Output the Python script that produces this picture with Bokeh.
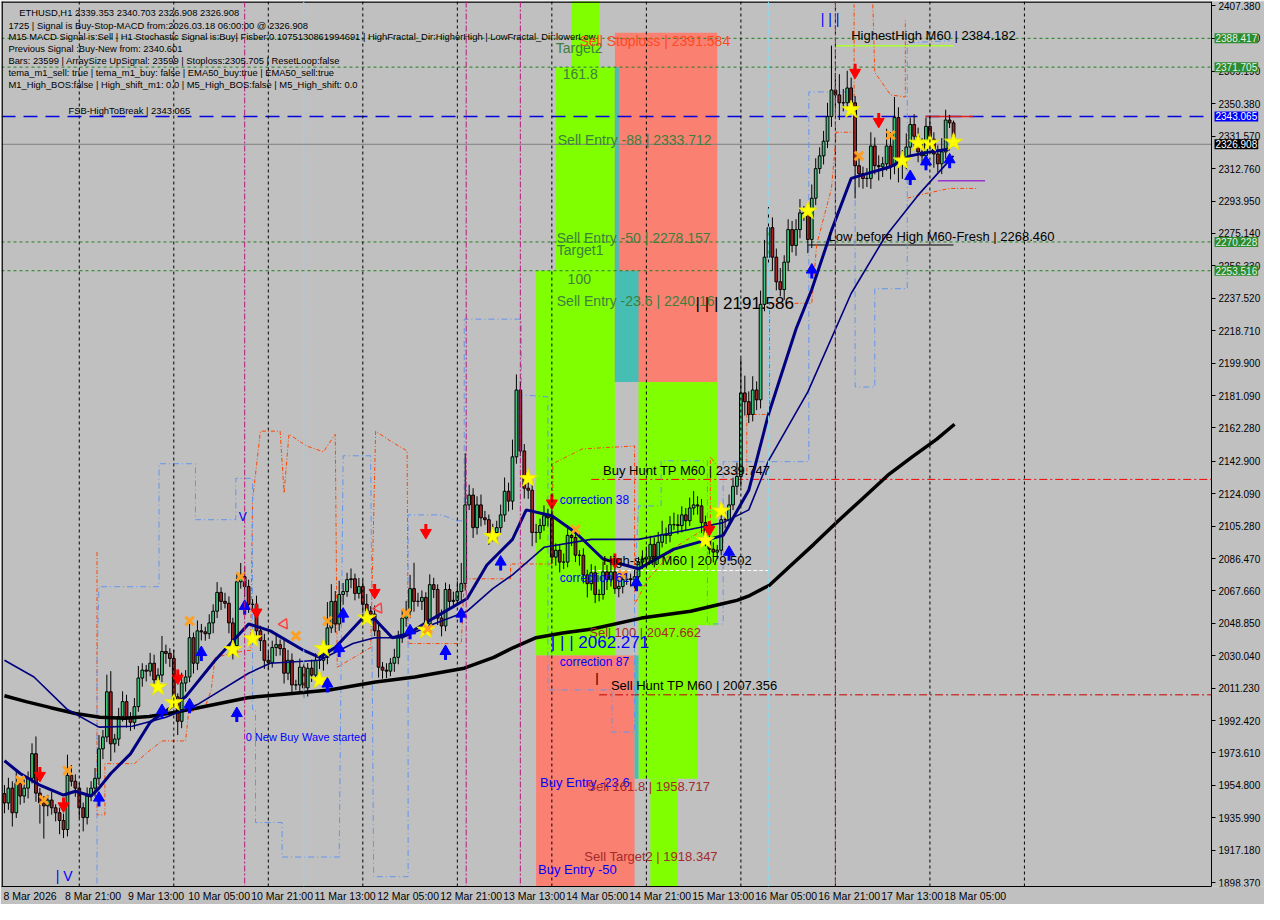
from bokeh.plotting import figure
from bokeh.models import Range1d, FixedTicker, Label, Span, NumeralTickFormatter
from bokeh.embed import file_html
from bokeh.resources import INLINE

# ---------------- data ----------------
x_tick_bars = [0, 16, 32, 48, 64, 80, 96, 112, 128, 144, 160, 176, 192, 208, 224, 240]
x_tick_labels = ["8 Mar 2026", "8 Mar 21:00", "9 Mar 13:00", "10 Mar 05:00", "10 Mar 21:00",
                 "11 Mar 13:00", "12 Mar 05:00", "12 Mar 21:00", "13 Mar 13:00", "14 Mar 05:00",
                 "14 Mar 21:00", "15 Mar 13:00", "16 Mar 05:00", "16 Mar 21:00", "17 Mar 13:00",
                 "18 Mar 05:00"]
y_ticks = [2407.38, 2388.57, 2369.19, 2350.38, 2331.57, 2312.76, 2293.95, 2275.14, 2256.33,
           2237.52, 2218.71, 2199.90, 2181.09, 2162.28, 2142.90, 2124.09, 2105.28, 2086.47,
           2067.66, 2048.85, 2030.04, 2011.23, 1992.42, 1973.61, 1954.80, 1935.99, 1917.18, 1898.37]

first_open = 1950.0
closes = [
    1944.6, 1953.2, 1938.9, 1956.0, 1948.6, 1953.2, 1958.9, 1973.2, 1950.3, 1944.6,
    1942.9, 1946.3, 1941.8, 1938.9, 1934.4, 1929.2, 1960.6, 1957.2, 1953.2, 1941.8,
    1936.1, 1948.6, 1953.2, 1958.9, 1976.0, 1982.9, 2009.1, 1978.9, 1981.7, 1994.8,
    2003.4, 1994.3, 1991.4, 2000.5, 2017.1, 2021.7, 2021.1, 2025.7, 2016.0, 2018.8,
    2032.5, 2031.4, 2028.5, 2006.2, 1992.0, 2014.2, 2017.7, 2040.5, 2025.7, 2044.5,
    2043.9, 2042.8, 2049.1, 2055.9, 2066.8, 2061.6, 2060.5, 2049.1, 2035.9, 2073.0,
    2075.9, 2070.2, 2059.9, 2059.9, 2044.5, 2038.8, 2027.4, 2026.2, 2034.8, 2036.5,
    2034.2, 2019.9, 2027.4, 2013.1, 2013.1, 2023.4, 2011.4, 2022.8, 2018.8, 2027.4,
    2027.4, 2029.1, 2046.2, 2061.6, 2048.5, 2065.6, 2067.3, 2074.2, 2074.7, 2066.2,
    2070.2, 2059.9, 2055.9, 2054.2, 2044.5, 2023.4, 2021.7, 2021.1, 2025.7, 2029.1,
    2040.5, 2051.9, 2055.9, 2069.0, 2061.6, 2061.6, 2063.9, 2048.5, 2071.3, 2068.5,
    2051.9, 2047.3, 2068.5, 2061.6, 2062.2, 2067.3, 2071.9, 2117.6, 2123.3, 2104.4,
    2117.6, 2110.1, 2109.0, 2100.4, 2101.6, 2104.4, 2111.8, 2125.5, 2119.8, 2145.5,
    2184.3, 2148.9, 2127.3, 2126.1, 2101.6, 2101.6, 2105.6, 2111.3, 2110.1, 2087.3,
    2091.3, 2084.4, 2084.4, 2099.9, 2098.7, 2088.4, 2088.4, 2077.0, 2071.9, 2078.2,
    2065.6, 2065.6, 2078.7, 2074.2, 2078.7, 2069.0, 2070.2, 2074.2, 2074.7, 2074.2,
    2075.9, 2084.4, 2086.2, 2087.3, 2094.7, 2087.3, 2095.9, 2100.4, 2099.9, 2106.1,
    2106.1, 2105.6, 2111.8, 2108.4, 2115.8, 2117.6, 2117.0, 2107.3, 2097.6, 2091.9,
    2090.2, 2091.3, 2109.0, 2109.0, 2117.6, 2128.4, 2134.1, 2182.6, 2177.5, 2170.1,
    2184.3, 2178.6, 2234.0, 2261.4, 2278.5, 2261.4, 2247.1, 2242.6, 2258.5, 2277.4,
    2268.2, 2277.4, 2287.1, 2286.5, 2271.7, 2295.6, 2312.8, 2320.2, 2328.7, 2343.0,
    2358.4, 2355.6, 2351.0, 2351.0, 2359.6, 2351.0, 2314.5, 2309.9, 2307.1, 2307.1,
    2325.9, 2314.5, 2313.9, 2315.6, 2325.9, 2314.5, 2342.4, 2316.8, 2318.5, 2325.3,
    2338.4, 2331.6, 2322.5, 2320.2, 2337.3, 2329.9, 2321.3, 2315.6, 2322.5, 2341.0,
    2339.353, 2326.908]
up_wick = [
    5, 6, 4, 8, 3, 5, 4, 6, 10, 3, 4, 3, 5, 2, 3, 4, 12, 6, 4, 3,
    3, 5, 4, 6, 8, 4, 10, 12, 3, 5, 6, 4, 3, 5, 7, 4, 3, 6, 5, 4,
    9, 4, 3, 5, 2, 6, 4, 8, 3, 6, 4, 3, 5, 4, 6, 3, 5, 4, 3, 5,
    8, 6, 4, 3, 5, 3, 4, 5, 4, 6, 3, 5, 6, 4, 3, 5, 4, 3, 5, 4,
    3, 4, 15, 10, 6, 8, 5, 4, 6, 3, 5, 4, 6, 3, 5, 4, 3, 4, 3, 5,
    4, 5, 6, 8, 15, 5, 4, 3, 6, 4, 3, 5, 4, 3, 5, 6, 12, 30, 6, 4,
    5, 6, 4, 3, 5, 4, 6, 8, 5, 10, 9, 5, 4, 6, 3, 5, 4, 6, 4, 5,
    4, 3, 5, 6, 4, 5, 3, 4, 3, 5, 4, 3, 6, 4, 5, 3, 4, 3, 4, 3,
    4, 3, 5, 6, 5, 4, 6, 8, 4, 5, 7, 6, 5, 4, 6, 8, 5, 4, 4, 3,
    4, 3, 5, 4, 6, 5, 8, 20, 10, 6, 8, 5, 8, 10, 12, 6, 5, 8, 4, 6,
    5, 6, 8, 4, 5, 8, 6, 5, 6, 8, 25.8, 10, 12, 8, 10, 6, 4, 5, 4, 6,
    8, 5, 6, 4, 10, 8, 12, 6, 5, 8, 4, 6, 5, 8, 5, 6, 4, 5, 8, 6,
    3, 1.35]
down_wick = [
    6, 4, 8, 3, 5, 4, 6, 3, 5, 12, 19, 6, 4, 5, 8, 5, 4, 3, 5, 6,
    8, 4, 3, 5, 4, 6, 3, 10, 5, 4, 3, 6, 5, 4, 3, 5, 6, 3, 4, 5,
    4, 6, 5, 3, 8, 4, 5, 3, 6, 4, 5, 4, 3, 6, 4, 5, 3, 6, 8, 5,
    4, 6, 5, 4, 3, 6, 5, 4, 3, 5, 4, 6, 4, 5, 3, 4, 6, 5, 4, 3,
    5, 6, 4, 3, 5, 4, 6, 3, 5, 4, 3, 5, 4, 6, 3, 6, 5, 4, 3, 5,
    4, 3, 5, 4, 6, 3, 5, 4, 3, 5, 4, 6, 3, 5, 4, 3, 5, 4, 3, 6,
    4, 5, 3, 6, 4, 5, 3, 4, 6, 5, 4, 3, 6, 5, 8, 6, 4, 3, 5, 4,
    5, 6, 4, 3, 5, 4, 6, 5, 8, 4, 5, 4, 3, 6, 4, 3, 5, 4, 3, 4,
    5, 3, 4, 5, 3, 6, 4, 3, 5, 4, 3, 5, 4, 6, 3, 4, 5, 6, 4, 3,
    6, 4, 3, 5, 4, 3, 5, 6, 8, 5, 4, 6, 5, 4, 6, 8, 5, 4, 6, 5,
    4, 6, 5, 4, 8, 5, 4, 3, 5, 4, 6, 8, 10, 5, 4, 6, 19, 8, 6, 5,
    6, 5, 8, 6, 4, 8, 5, 12, 10, 6, 5, 8, 6, 5, 4, 6, 8, 5, 6, 4,
    3, 0]

# moving averages (bar index, price)
ma_slow_bar = [0, 5.5, 11.75, 18, 24.25, 30.5, 36.75, 43, 49.25, 55.5, 61.75, 71.75, 82.5, 94.25,
               104.25, 116.75, 124.25, 129.25, 135, 141.75, 149.25, 161.75, 174.25, 181.75, 186,
               189.25, 194.25, 199.25, 205.5, 211.75, 218, 224.25, 230.5, 236.75, 241.25]
ma_slow_val = [2006.8, 2003.4, 1999.9, 1996.5, 1994.3, 1993.7, 1994.8, 1997.1, 1999.9, 2002.8,
               2005.7, 2007.9, 2010.2, 2014.8, 2017.7, 2022.8, 2029.1, 2034.8, 2040.5, 2043.3,
               2045.6, 2051.9, 2055.9, 2059.9, 2062.2, 2065.0, 2071.0, 2081.6, 2094.7, 2108.4,
               2121.5, 2134.7, 2145.5, 2155.8, 2164.4]
ema_fast_bar = [0, 4, 9, 15, 18, 22, 24, 27, 32, 37, 46, 53.5, 62, 67.5, 76, 80, 84, 91, 94, 98.5,
                102.5, 109, 117.5, 122.5, 129, 132.5, 139, 145, 152, 161, 170, 182.5, 189, 194,
                201, 205, 210, 215, 219, 225, 230, 235, 240]
ema_fast_val = [1969.1, 1961.7, 1954.9, 1949.2, 1951.4, 1948.6, 1953.2, 1961.7, 1973.1, 1991.4,
                2006.2, 2027.4, 2048.5, 2044.5, 2033.1, 2029.1, 2034.8, 2051.9, 2051.3, 2040.5,
                2042.8, 2051.9, 2063.3, 2082.7, 2097.6, 2114.7, 2111.3, 2101.6, 2086.2, 2080.5,
                2091.9, 2099.9, 2126.1, 2170.1, 2219.7, 2242.6, 2276.8, 2307.1, 2309.9, 2313.9,
                2320.2, 2322.5, 2324.2]
ema_mid_bar = [0, 7.5, 16, 24, 32.5, 41, 49, 62, 67.5, 80, 88.5, 94, 101, 109, 117.5, 124, 129,
               137, 149, 161, 174, 182.5, 189, 194, 204, 215, 223.5, 232, 241]
ema_mid_val = [2027.4, 2017.7, 1998.8, 1988.6, 1989.1, 1994.3, 2001.7, 2019.9, 2025.7, 2027.4,
               2037.1, 2040.5, 2040.5, 2048.5, 2055.9, 2069.0, 2077.0, 2093.0, 2097.6, 2097.6,
               2103.3, 2107.3, 2114.7, 2143.2, 2183.2, 2240.3, 2272.8, 2297.4, 2320.2]

# channel step lines
orange_bar = [23.5, 23.5, 25.5, 25.5, 33, 36.75, 40, 46, 46.75, 51, 52.5, 53.5, 61.25, 62.5, 63, 65,
              70, 71, 72.25, 76.75, 81, 84, 84.5, 93, 94.25, 98, 102.25, 102.5, 116, 116.75, 128.5,
              128.5, 139.25, 139.25, 146.75, 160, 160, 163.5, 171, 179.25, 179.25, 182.5, 188.5,
              188.5, 194.25, 194.25, 205, 206.25, 210, 211.25, 215.75, 215.75]
orange_val = [2090.2, 1937.7, 1937.7, 1967.4, 1967.4, 1974.8, 1980.6, 1980.6, 1997.1, 2000.5,
              2010.2, 2029.1, 2033.1, 2033.1, 2120.4, 2160.4, 2160.4, 2124.4, 2158.6, 2151.8,
              2148.4, 2158.6, 2023.4, 2034.8, 2160.4, 2154.7, 2148.9, 2037.1, 2037.1, 2074.7,
              2074.7, 2083.3, 2083.3, 2141.5, 2150.1, 2151.8, 2059.9, 2074.7, 2094.1, 2105.6,
              2145.5, 2135.8, 2135.8, 2170.1, 2170.1, 2234.6, 2234.6, 2268.8, 2301.3, 2333.9,
              2333.9, 2408.1]
orange2_bar = [220.5, 221, 225, 228.75, 228.75]
orange2_val = [2408.1, 2368.7, 2355.6, 2354.4, 2400.1]
orange3_bar = [229.25, 234.25, 240, 246.75]
orange3_val = [2295.6, 2298.5, 2301.3, 2301.3]
blue_bar = [23.5, 23.5, 24, 39.25, 39.25, 48.5, 48.5, 58.75, 58.75, 63, 63, 63.75, 63.75, 70.5,
            70.5, 85, 86, 93, 93.75, 102.5, 102.5, 111, 115, 116.75, 116.75, 131.25, 131.25, 138,
            138, 154.25, 154.25, 160, 160, 161, 166.75, 166.75, 178.5, 178.5, 182.5, 182.5,
            204.25, 204.25, 215, 216, 216, 221, 221, 229.25, 229.25, 240, 240]
blue_val = [1897.8, 2025.7, 2070.1, 2070.1, 2141.5, 2141.5, 2109.0, 2109.0, 2133.0, 2133.0,
            1998.8, 1998.8, 1933.2, 1933.2, 1913.2, 1913.2, 2146.1, 2146.1, 1901.8, 1901.8,
            2111.8, 2111.8, 2108.4, 2108.4, 2225.4, 2225.4, 2181.5, 2180.3, 2010.2, 2010.2,
            1985.7, 1985.7, 2071.3, 2117.0, 2117.0, 2143.2, 2143.2, 2048.5, 2048.5, 2142.7,
            2142.7, 2357.3, 2357.3, 2354.4, 2186.0, 2186.0, 2243.1, 2243.1, 2385.8, 2387.0, 2391.0]

# signal markers (bar, price)
star_bar = [39, 43, 58, 63, 80, 81, 92, 107, 124, 133, 178, 182, 204, 215, 228, 232, 235, 241]
star_val = [2011.9, 2002.8, 2033.6, 2039.9, 2015.9, 2034.2, 2051.9, 2045.0, 2099.3, 2133.0,
            2097.0, 2114.1, 2288.2, 2347.0, 2317.3, 2327.6, 2327.6, 2328.2]
cross_bar = [4, 10, 16, 47, 60, 74, 82, 102, 107.5, 145, 157, 217, 225]
cross_val = [1957.7, 1946.3, 1963.4, 2050.2, 2075.9, 2041.6, 2050.2, 2054.8, 2045.6, 2103.3,
             2077.0, 2320.2, 2332.2]
sell_arrow_bar = [9, 15, 44, 64, 94, 107, 139, 155, 179, 216, 222]
sell_arrow_val = [1961.7, 1944.0, 2018.2, 2056.5, 2067.9, 2102.7, 2119.8, 2085.6, 2104.4, 2369.8, 2341.3]
hollow_arrow_bar = [71, 95]
hollow_arrow_val = [2048.5, 2057.6]
buy_arrow_bar = [24, 40, 47, 50, 59, 61, 82, 85, 86, 103, 112, 116, 126, 160.5, 184, 205, 230, 234, 240]
buy_arrow_val = [1946.3, 1997.1, 2000.5, 2030.8, 1995.4, 2057.6, 2012.5, 2033.1, 2053.1, 2043.4,
                 2031.4, 2053.1, 2083.3, 2071.3, 2089.0, 2252.8, 2307.1, 2315.6, 2316.8]

# zones: left bar, right bar, bottom price, top price, colour
zone_left = [144, 140, 135, 155, 155, 155, 161, 161, 135, 160, 164]
zone_right = [151, 155, 155, 181, 156, 161, 181, 176, 160, 161, 171]
zone_bottom = [2371.7, 2253.5, 2030.2, 2188.9, 2253.5, 2188.9, 2047.7, 1958.7, 1890.0, 1958.7, 1890.0]
zone_top = [2412.0, 2371.7, 2253.5, 2391.6, 2371.7, 2253.5, 2188.9, 2047.7, 2030.2, 2030.2, 1958.7]
zone_color = ["#7FFF00", "#7FFF00", "#7FFF00", "#FA8072", "#46BEB4", "#46BEB4", "#7FFF00",
              "#7FFF00", "#FA8072", "#46BEB4", "#7FFF00"]

# levels
green_levels = [2388.417, 2371.705, 2270.228, 2253.516]
fsb_high = 2343.065
bid = 2326.908
buy_hunt_line = 2132.4
sell_hunt_line = 2007.356
high_shift = 2079.502
low_before_high = 2268.460
highest_high = 2384.182
stoploss_level = 2305.705
day_start_bars = [19, 43, 67, 91, 115, 139, 163, 187, 211, 235, 259]
magenta_bars = [61, 117.25, 131, 211]
cyan_bars = [76, 194]

# ---------------- figure ----------------
XMIN, XMAX = -0.75, 306.5          # chart area (price scale sits right of XMAX)
YMIN, YMAX = 1896.1, 2409.8
CHART_W = 1210                      # px of chart area
FIG_W, FIG_H = 1264, 904
FRAME_W = FIG_W - 1
XEND = XMIN + (XMAX - XMIN) * FRAME_W / CHART_W


def bx(px):
    return XMIN + px / 4.0


def py(y):
    return YMAX - y * 0.5708


p = figure(width=FIG_W, height=FIG_H, output_backend="svg", toolbar_location=None,
           x_range=Range1d(XMIN, XEND), y_range=Range1d(YMIN, YMAX),
           y_axis_location="right", min_border_left=1, min_border_top=1,
           min_border_right=0, min_border_bottom=2)
p.background_fill_color = "#C0C0C0"
p.border_fill_color = "#C0C0C0"
p.outline_line_color = None
p.grid.visible = False

FONT = "Liberation Sans"
for ax in (p.xaxis[0], p.yaxis[0]):
    ax.axis_line_color = "black"
    ax.major_tick_line_color = "black"
    ax.minor_tick_line_color = None
    ax.major_tick_in = 0
    ax.major_tick_out = 4
    ax.major_label_text_font = FONT
    ax.major_label_text_font_size = "10.5px"
    ax.major_label_text_color = "black"
    ax.major_label_standoff = 3
label_centres = [b + 6.5 for b in x_tick_bars]
p.xaxis.ticker = FixedTicker(ticks=label_centres)
p.xaxis.major_label_overrides = {c: l for c, l in zip(label_centres, x_tick_labels)}
p.xaxis.major_tick_out = 0
p.xaxis.bounds = (XMIN, XMAX)
p.yaxis.ticker = FixedTicker(ticks=y_ticks)
p.yaxis.formatter = NumeralTickFormatter(format="0.000")
p.yaxis.major_label_text_font_size = "10px"
p.yaxis.fixed_location = XMAX

# zones
p.quad(left=zone_left, right=zone_right, bottom=zone_bottom, top=zone_top,
       fill_color=zone_color, line_alpha=0)

# vertical separators
for b in day_start_bars:
    p.add_layout(Span(location=b, dimension="height", line_color="black", line_dash="3 3", line_width=1))
for b in magenta_bars:
    p.add_layout(Span(location=b, dimension="height", line_color="#B8177E", line_dash="6 2 2 2", line_width=1))
for b in cyan_bars:
    p.add_layout(Span(location=b, dimension="height", line_color="#8FD8EC", line_dash="6 3", line_width=1))

# horizontal levels (chart area only)
p.segment(x0=[XMIN] * 4, y0=green_levels, x1=[XMAX] * 4, y1=green_levels, line_color="#1F7F1F",
          line_dash="3 3", line_width=1)
p.segment(x0=[XMIN], y0=[fsb_high], x1=[XMAX], y1=[fsb_high], line_color="#0000E0",
          line_dash="14 8", line_width=1.5)
p.segment(x0=[XMIN], y0=[bid], x1=[XMAX], y1=[bid], line_color="#808080", line_width=1)
p.segment(x0=[149], y0=[buy_hunt_line], x1=[XMAX], y1=[buy_hunt_line], line_color="#FF0000",
          line_dash="8 3 2 3", line_width=1)
p.segment(x0=[151], y0=[sell_hunt_line], x1=[XMAX], y1=[sell_hunt_line], line_color="#C00000",
          line_dash="8 3 2 3", line_width=1)
p.segment(x0=[149], y0=[high_shift], x1=[194], y1=[high_shift], line_color="white",
          line_dash="4 2", line_width=1)
p.segment(x0=[204], y0=[low_before_high], x1=[241], y1=[low_before_high], line_color="black", line_width=1)
p.segment(x0=[211], y0=[highest_high], x1=[241], y1=[highest_high], line_color="#ADFF2F", line_width=1.5)
p.segment(x0=[237], y0=[stoploss_level], x1=[249], y1=[stoploss_level], line_color="#9932CC", line_width=1.5)
p.segment(x0=[234], y0=[fsb_high], x1=[246], y1=[fsb_high], line_color="#DD2020", line_width=1.5)

# chart border (left and top)
p.segment(x0=[XMIN + 0.15, XMIN], y0=[YMIN, YMAX - 0.3], x1=[XMIN + 0.15, XMAX], y1=[YMAX, YMAX - 0.3],
          line_color="black", line_width=1.5)

# channel step lines
p.line(orange_bar, orange_val, line_color="#FF4500", line_dash="4 2 1 2", line_width=1)
p.line(orange2_bar, orange2_val, line_color="#FF4500", line_dash="4 2 1 2", line_width=1)
p.line(orange3_bar, orange3_val, line_color="#FF4500", line_dash="4 2 1 2", line_width=1)
p.line(blue_bar, blue_val, line_color="#6495ED", line_dash="6 3 1 3", line_width=1)

# candles
n = len(closes)
opens = [first_open] + closes[:-1]
xs = list(range(n))
tops = [max(o, c) for o, c in zip(opens, closes)]
bots = [min(o, c) for o, c in zip(opens, closes)]
highs = [t + w for t, w in zip(tops, up_wick)]
lows = [b - w for b, w in zip(bots, down_wick)]
cols = ["#3CC57A" if c >= o else "#A52323" for o, c in zip(opens, closes)]
p.segment(x0=xs, y0=lows, x1=xs, y1=highs, line_color="black", line_width=1)
p.vbar(x=xs, width=0.7, top=tops, bottom=bots, fill_color=cols, line_color="black", line_width=1)

# moving averages
p.line(ma_slow_bar, ma_slow_val, line_color="black", line_width=3.5)
p.line(ema_mid_bar, ema_mid_val, line_color="#000080", line_width=1.6)
p.line(ema_fast_bar, ema_fast_val, line_color="#000080", line_width=3)

# markers
p.scatter(star_bar, star_val, marker="star", size=19, fill_color="#FFFF00", line_color="#E8E800")
p.scatter(cross_bar, cross_val, marker="x", size=12, line_color="#FFA020", line_width=3)
sv_top = [v + 3.8 for v in sell_arrow_val]
p.segment(x0=sell_arrow_bar, y0=sv_top, x1=sell_arrow_bar, y1=sell_arrow_val, line_color="#FF0000", line_width=3)
p.scatter(sell_arrow_bar, [v - 1.2 for v in sell_arrow_val], marker="inverted_triangle", size=11,
          fill_color="#FF0000", line_color="#FF0000")
bv_bot = [v - 3.8 for v in buy_arrow_val]
p.segment(x0=buy_arrow_bar, y0=bv_bot, x1=buy_arrow_bar, y1=buy_arrow_val, line_color="#0000FF", line_width=3)
p.scatter(buy_arrow_bar, [v + 1.2 for v in buy_arrow_val], marker="triangle", size=11,
          fill_color="#0000FF", line_color="#0000FF")
p.scatter(hollow_arrow_bar, hollow_arrow_val, marker="inverted_triangle", size=10, angle=0.6,
          fill_alpha=0, line_color="#FF4040", line_width=1.5)

# ---------------- texts ----------------
info_lines = [
    ("ETHUSD,H1  2339.353 2340.703 2326.908 2326.908", 18, 11),
    ("1725 | Signal is Buy-Stop-MACD from:2026.03.18 06:00:00 @ 2326.908", 7, 24),
    ("M15 MACD Signal is:Sell | H1 Stochastic Signal is:Buy| Fisber:0.1075130861994691 | HighFractal_Dir:HigherHigh | LowFractal_Dir:lowerLow", 7, 36),
    ("Previous Signal :Buy-New from: 2340.601", 7, 48),
    ("Bars: 23599 | ArraySize UpSignal: 23599 | Stoploss:2305.705 | ResetLoop:false", 7, 60),
    ("tema_m1_sell: true | tema_m1_buy: false | EMA50_buy:true | EMA50_sell:true", 7, 72),
    ("M1_High_BOS:false | High_shift_m1: 0.0 | M5_High_BOS:false | M5_High_shift: 0.0", 7, 84),
    ("FSB-HighToBreak | 2343.065", 68, 111),
]
for t, x, y in info_lines:
    p.add_layout(Label(x=bx(x), y=py(y), text=t, text_font=FONT, text_font_size="9.4px",
                       text_color="black", text_baseline="middle", text_align="left"))

GREEN_T = "#3E7E3E"
BROWN_T = "#A52A2A"
BLUE_T = "#0000FF"
labels = [
    ("Target2", 563, 47, GREEN_T, "14px"),
    ("Sell Stoploss | 2391.584", 587, 40, "#FF4A22", "14px"),
    ("161.8", 570, 74, GREEN_T, "14px"),
    ("Sell Entry -88 | 2333.712", 565, 141, GREEN_T, "14px"),
    ("Sell Entry -50 | 2278.157", 564, 240, GREEN_T, "14px"),
    ("Target1", 564, 253, GREEN_T, "14px"),
    ("100", 575, 282, GREEN_T, "14px"),
    ("Sell Entry -23.6 | 2240.16", 564, 305, GREEN_T, "14px"),
    ("| | | 2191.586", 705, 307, "black", "17px"),
    ("HighestHigh   M60 | 2384.182", 863, 35, "black", "13px"),
    ("Low before High   M60-Fresh | 2268.460", 840, 239, "black", "13px"),
    ("Buy Hunt TP M60 | 2339.747", 611, 477, "black", "13px"),
    ("correction 38", 567, 507, BLUE_T, "12px"),
    ("High-shift M60 | 2079.502", 611, 568, "black", "13px"),
    ("correction 61", 567, 586, BLUE_T, "12px"),
    ("Sell 100 | 2047.662", 597, 642, BROWN_T, "13px"),
    ("| | | 2062.271", 558, 652, BLUE_T, "17px"),
    ("correction 87", 567, 672, BLUE_T, "12px"),
    ("|", 603, 687, "black", "13px"),
    ("Sell Hunt TP M60 | 2007.356", 619, 696, "black", "13px"),
    ("0 New Buy Wave started", 248, 748, BLUE_T, "11px"),
    ("Buy Entry -23.6", 547, 794, BLUE_T, "13px"),
    ("Sell 161.8 | 1958.717", 595, 798, BROWN_T, "13px"),
    ("Sell Target2 | 1918.347", 592, 869, BROWN_T, "13px"),
    ("Buy Entry -50", 545, 883, BLUE_T, "13px"),
    ("| V", 55, 889, BLUE_T, "14px"),
    ("| | |", 832, 18, BLUE_T, "14px"),
    ("V", 241, 524, BLUE_T, "12px"),
]
for t, x, y, c, s in labels:
    p.add_layout(Label(x=bx(x), y=py(y), text=t, text_font=FONT, text_font_size=s,
                       text_color=c, text_baseline="middle", text_align="left"))

# price boxes on the price scale
boxes = [(2388.417, "#2E8B2E", "#E4F4E4"), (2371.705, "#2E8B2E", "#E4F4E4"),
         (2270.228, "#2E8B2E", "#E4F4E4"), (2253.516, "#2E8B2E", "#E4F4E4"),
         (fsb_high, "#0000FF", "white"), (bid, "black", "white")]
for v, bg, fg in boxes:
    p.add_layout(Label(x=XMAX, y=v, x_offset=3, text=f"{v:.3f}",
                       text_font=FONT, text_font_size="10px", text_color=fg,
                       background_fill_color=bg, text_baseline="middle", text_align="left",
                       padding=1, level="overlay"))

open("out.html", "w").write(file_html(p, INLINE))
